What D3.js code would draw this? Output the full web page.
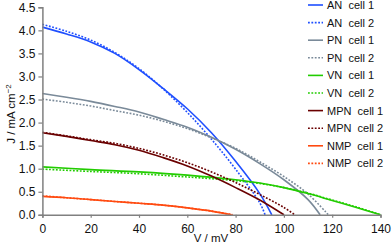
<!DOCTYPE html>
<html><head><meta charset="utf-8">
<script src="https://cdn.jsdelivr.net/npm/d3@7"></script>
<style>body{margin:0;background:#fff}svg{display:block;font-family:"Liberation Sans",Arial,sans-serif}</style>
</head><body><svg id="c" width="392" height="244"></svg>
<script>
const xTicks=[0,20,40,60,80,100,120,140];
const yTicks=[0,0.5,1,1.5,2,2.5,3,3.5,4,4.5];
const seriesNames=["AN  cell 1","AN  cell 2","PN  cell 1","PN  cell 2","VN  cell 1","VN  cell 2","MPN  cell 1","MPN  cell 2","NMP  cell 1","NMP  cell 2"];
const seriesColors=["#1f4fff","#1f4fff","#7a8a99","#7a8a99","#22cc00","#22cc00","#6a0000","#6a0000","#ff4a10","#ff4a10"];
const an1=[[0,4.07],[10,3.92],[20,3.75],[30,3.50],[40,3.15],[50,2.74],[60,2.30],[70,1.78],[80,1.16],[90,0.46],[95,0]];
const an2=[[0,4.13],[10,3.98],[20,3.79],[30,3.52],[40,3.17],[50,2.73],[60,2.22],[70,1.64],[80,0.99],[90,0.26],[92.2,0]];
const pn1=[[0,2.63],[10,2.55],[20,2.46],[30,2.35],[40,2.23],[50,2.07],[60,1.90],[70,1.68],[80,1.42],[90,1.11],[100,0.76],[110,0.33],[115,0]];
const pn2=[[0,2.51],[10,2.44],[20,2.36],[30,2.26],[40,2.16],[50,2.03],[60,1.87],[70,1.67],[80,1.44],[90,1.15],[100,0.83],[110,0.45],[118.4,0]];
const vn1=[[0,1.04],[20,0.98],[40,0.93],[60,0.86],[80,0.76],[90,0.69],[100,0.59],[110,0.46],[120,0.31],[130,0.16],[140,0]];
const vn2=[[0,0.99],[20,0.94],[40,0.89],[60,0.82],[80,0.74],[90,0.68],[100,0.59],[110,0.47],[120,0.32],[130,0.17],[140,0]];
const mpn1=[[0,1.78],[10,1.70],[20,1.61],[30,1.52],[40,1.40],[50,1.24],[60,1.06],[70,0.84],[80,0.59],[90,0.32],[100,0]];
const mpn2=[[0,1.79],[10,1.71],[20,1.63],[30,1.55],[40,1.44],[50,1.30],[60,1.13],[70,0.93],[80,0.70],[90,0.44],[100,0.16],[104.5,0]];
const nmp1=[[0,0.40],[10,0.37],[20,0.33],[30,0.29],[40,0.25],[50,0.21],[60,0.15],[70,0.08],[78.4,0]];
const nmp2=[[0,0.41],[10,0.37],[20,0.33],[30,0.29],[40,0.25],[50,0.21],[60,0.15],[70,0.08],[78.8,0]];
const seriesData=[an1,an2,pn1,pn2,vn1,vn2,mpn1,mpn2,nmp1,nmp2];

const svg=d3.select("#c");
const x=d3.scaleLinear().domain([0,140]).range([42.4,380.5]);
const y=d3.scaleLinear().domain([0,4.5]).range([214.8,7.3]);
const axisColor="#808080";

const line=d3.line().x(d=>x(d[0])).y(d=>y(d[1])).curve(d3.curveCatmullRom.alpha(0.5));
seriesData.forEach((d,i)=>{
  svg.append("path").datum(d).attr("d",line).attr("fill","none")
    .attr("stroke",seriesColors[i]).attr("stroke-width",1.6)
    .attr("stroke-dasharray",i%2?"1.8,1.6":null);
});

const xa=svg.append("g").attr("transform",`translate(0,${y(0)})`)
  .call(d3.axisBottom(x).tickValues(xTicks).tickSize(3).tickPadding(7).tickFormat(d3.format("d")));
const ya=svg.append("g").attr("transform",`translate(${x(0)},0)`)
  .call(d3.axisLeft(y).tickValues(yTicks).tickSize(4).tickPadding(3).tickFormat(d3.format(".1f")));
[xa,ya].forEach(a=>{
  a.select(".domain").attr("stroke",axisColor).attr("stroke-width",1.5);
  a.selectAll(".tick line").attr("stroke",axisColor).attr("stroke-width",1.2);
  a.selectAll("text").attr("fill","#111").style("font-size","12px").style("font-family","Liberation Sans, Arial, sans-serif");
});

svg.append("text").attr("x",211).attr("y",241.5).attr("text-anchor","middle")
  .style("font-size","11.5px").attr("fill","#111").text("V / mV");
const yl=svg.append("text").attr("transform","translate(15,114) rotate(-90)").attr("text-anchor","middle")
  .style("font-size","11.5px").attr("fill","#111");
yl.append("tspan").text("J / mA cm");
yl.append("tspan").attr("dy",-4).style("font-size","8px").text("−2");

const lg=svg.append("g");
seriesNames.forEach((n,i)=>{
  const yy=5+i*17.6;
  lg.append("line").attr("x1",308).attr("x2",323).attr("y1",yy).attr("y2",yy)
    .attr("stroke",seriesColors[i]).attr("stroke-width",1.6)
    .attr("stroke-dasharray",i%2?"1.8,1.6":null);
  lg.append("text").attr("x",327).attr("y",yy+4).style("font-size","11px").attr("fill","#111")
    .style("white-space","pre").text(n);
});
</script></body></html>
